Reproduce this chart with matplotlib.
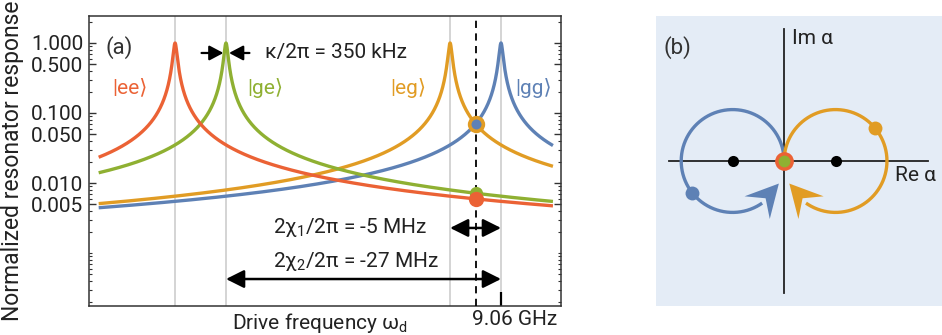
import numpy as np
import matplotlib
matplotlib.use('Agg')
import matplotlib.pyplot as plt
from matplotlib.patches import Polygon
from matplotlib.ticker import LogLocator, NullFormatter

plt.rcParams['font.family'] = ['Roboto', 'DejaVu Sans']
plt.rcParams['mathtext.fontset'] = 'custom'
plt.rcParams['mathtext.rm'] = 'Roboto'
plt.rcParams['mathtext.default'] = 'regular'

# ---- panel (a): resonator response vs drive frequency ----
states = ['ee', 'ge', 'eg', 'gg']
peak_mhz = [-32.0, -27.0, -5.0, 0.0]       # offset from 9.06 GHz
state_colors = ['#EB6235', '#8FB032', '#E19C24', '#5E81B5']
kappa_mhz = 0.35                           # kappa/2pi = 350 kHz
drive_mhz = -2.5                           # dashed line
sweep_mhz = [-39.5, 5.1]

ytick_vals = [0.005, 0.01, 0.05, 0.1, 0.5, 1.0]
ytick_labels = ['0.005', '0.010', '0.050', '0.100', '0.500', '1.000']

# ---- panel (b): pointer states in phase space ----
circle_centers = [-1.0, 1.0]               # |gg> (blue), |eg> (orange)
circle_radius = 1.0
dot_angles = [218.0, 40.0]


def response(x, x0):
    return 1.0 / np.sqrt(1.0 + (2.0 * (x - x0) / kappa_mhz) ** 2)


FS = 15
TXT = '#222222'
fig = plt.figure(figsize=(9.42, 3.35), dpi=100)
W, H = 942.0, 335.0
ax = fig.add_axes([89 / W, 1 - 306 / H, (561 - 89) / W, (306 - 16) / H])

x = np.union1d(np.linspace(sweep_mhz[0], sweep_mhz[1], 20001), peak_mhz)

for x0 in peak_mhz:
    ax.axvline(x0, color='#c9c9c9', lw=1.1, zorder=1)

for i in [3, 2, 1, 0]:
    ax.plot(x, response(x, peak_mhz[i]), color=state_colors[i], lw=2.4,
            zorder=2, solid_capstyle='butt')

ax.axvline(drive_mhz, color='k', lw=1.3, ls=(0, (4, 3)), zorder=3)

# dots at the drive frequency
ax.plot(drive_mhz, response(drive_mhz, peak_mhz[2]), 'o', ms=12.5,
        color=state_colors[2], mew=0, zorder=5)
ax.plot(drive_mhz, response(drive_mhz, peak_mhz[3]), 'o', ms=7.2,
        color=state_colors[3], mew=0, zorder=6)
ax.plot(drive_mhz, response(drive_mhz, peak_mhz[1]), 'o', ms=9.5,
        color=state_colors[1], mew=0, zorder=5)
ax.plot(drive_mhz, response(drive_mhz, peak_mhz[0]), 'o', ms=11,
        color=state_colors[0], mew=0, zorder=6)

ax.set_yscale('log')
ax.set_xlim(-40.45, 5.89)
ax.set_ylim(1.75e-4, 2.43)
ax.set_yticks(ytick_vals, ytick_labels)
ax.yaxis.set_minor_locator(LogLocator(base=10, subs=np.arange(1, 10), numticks=20))
ax.yaxis.set_minor_formatter(NullFormatter())
ax.tick_params(axis='y', which='both', direction='in', left=True, right=True,
               labelsize=FS, color='#333333', labelcolor=TXT, pad=4)
ax.tick_params(axis='y', which='major', length=5, width=1.0)
ax.tick_params(axis='y', which='minor', length=2.5, width=0.8)
ax.set_xticks([peak_mhz[3]], [''])
ax.tick_params(axis='x', direction='in', length=10, width=1.6, color='k')
for sp in ax.spines.values():
    sp.set_linewidth(1.1)
    sp.set_color('#333333')

ax.set_xlabel('Drive frequency ω$_d$', fontsize=FS, color=TXT)
ax.xaxis.set_label_coords(0.489, -0.018)
ax.set_ylabel('Normalized resonator response', fontsize=16.5, labelpad=5,
              color=TXT)
ax.annotate('9.06 GHz', xy=(peak_mhz[3], 0), xycoords=('data', 'axes fraction'),
            xytext=(10, -3), textcoords='offset points', ha='center', va='top',
            fontsize=FS, color=TXT)

ax.text(0.064, 0.893, '(a)', transform=ax.transAxes, ha='center', va='center',
        fontsize=16, color='#333333')

label_x = [-36.4, -23.1, -9.1, 3.2]
for i in range(4):
    ax.text(label_x[i], 0.228, '|' + states[i] + '⟩', color=state_colors[i],
            ha='center', va='center', fontsize=FS)

# kappa arrows
yk = 0.72
kap = dict(arrowstyle='-|>,head_length=0.85,head_width=0.45', color='k',
           lw=1.6, shrinkA=0, shrinkB=0, mutation_scale=10)
ax.annotate('', xy=(peak_mhz[1] - 0.25, yk), xytext=(peak_mhz[1] - 2.4, yk),
            arrowprops=kap)
ax.annotate('', xy=(peak_mhz[1] + 0.3, yk), xytext=(peak_mhz[1] + 2.3, yk),
            arrowprops=kap)
ax.text(-23.2, yk, 'κ/2π = 350 kHz', ha='left', va='center', fontsize=FS,
        color=TXT)

# chi arrows
dbl = dict(arrowstyle='<|-|>,head_length=1.1,head_width=0.55', color='k',
           lw=1.8, shrinkA=0, shrinkB=0, mutation_scale=10)
ax.annotate('', xy=(peak_mhz[3], 0.00228), xytext=(peak_mhz[2], 0.00228),
            arrowprops=dbl)
ax.text(-14.8, 0.00228, '2χ$_1$/2π = -5 MHz', ha='center', va='center',
        fontsize=FS, color=TXT)
ax.annotate('', xy=(peak_mhz[3], 4.25e-4), xytext=(peak_mhz[1], 4.25e-4),
            arrowprops=dbl)
ax.text(-14.2, 7.44e-4, '2χ$_2$/2π = -27 MHz', ha='center', va='center',
        fontsize=FS, color=TXT)

# ---- panel (b) ----
bx = fig.add_axes([656 / W, 1 - 306 / H, (942 - 656) / W, (306 - 16) / H])
bx.set_xlim(-2.49, 3.07)
bx.set_ylim(-2.82, 2.82)
bx.set_facecolor('#E4ECF6')
for sp in bx.spines.values():
    sp.set_visible(False)
bx.set_xticks([])
bx.set_yticks([])

bx.plot([-2.23, 2.8], [0, 0], color='#222222', lw=1.3, zorder=1)
bx.plot([0, 0], [-2.56, 2.56], color='#222222', lw=1.3, zorder=1)

arc_specs = [
    # (center, start, end of arc, arrow back angle, arrow tip angle, color)
    (circle_centers[0], 0.0, 305.0, 302.0, 334.0, state_colors[3]),
    (circle_centers[1], 180.0, -125.0, -122.0, -154.0, state_colors[2]),
]
for c, a0, a1, ab, at, col in arc_specs:
    th = np.radians(np.linspace(a0, a1, 400))
    bx.plot(c + circle_radius * np.cos(th), circle_radius * np.sin(th),
            color=col, lw=2.4, zorder=2, solid_capstyle='butt')
    tip = np.array([c + circle_radius * np.cos(np.radians(at)),
                    circle_radius * np.sin(np.radians(at))])
    back = np.array([c + circle_radius * np.cos(np.radians(ab)),
                     circle_radius * np.sin(np.radians(ab))])
    d = tip - back
    L = np.hypot(*d)
    d = d / L
    n = np.array([-d[1], d[0]])
    w = 0.33
    pts = [tip, back + n * w - d * 0.08, back + d * 0.3 * L, back - n * w - d * 0.08]
    bx.add_patch(Polygon(pts, closed=True, color=col, lw=0, zorder=3))

for c in circle_centers:
    bx.plot(c, 0, 'o', color='k', ms=8, mew=0, zorder=4)

for c, ang, col in zip(circle_centers, dot_angles, [state_colors[3], state_colors[2]]):
    bx.plot(c + circle_radius * np.cos(np.radians(ang)),
            circle_radius * np.sin(np.radians(ang)), 'o', color=col, ms=10,
            mew=0, zorder=4)

bx.plot(0, 0, 'o', color=state_colors[0], ms=13.5, mew=0, zorder=5)
bx.plot(0, 0, 'o', color=state_colors[1], ms=8.5, mew=0, zorder=6)

bx.text(-2.35, 2.21, '(b)', ha='left', va='center', fontsize=16,
        color='#333333')
bx.text(0.155, 2.39, 'Im α', ha='left', va='center', fontsize=FS, color=TXT)
bx.text(2.16, -0.29, 'Re α', ha='left', va='center', fontsize=FS, color=TXT)

fig.savefig('out.png', dpi=100)
